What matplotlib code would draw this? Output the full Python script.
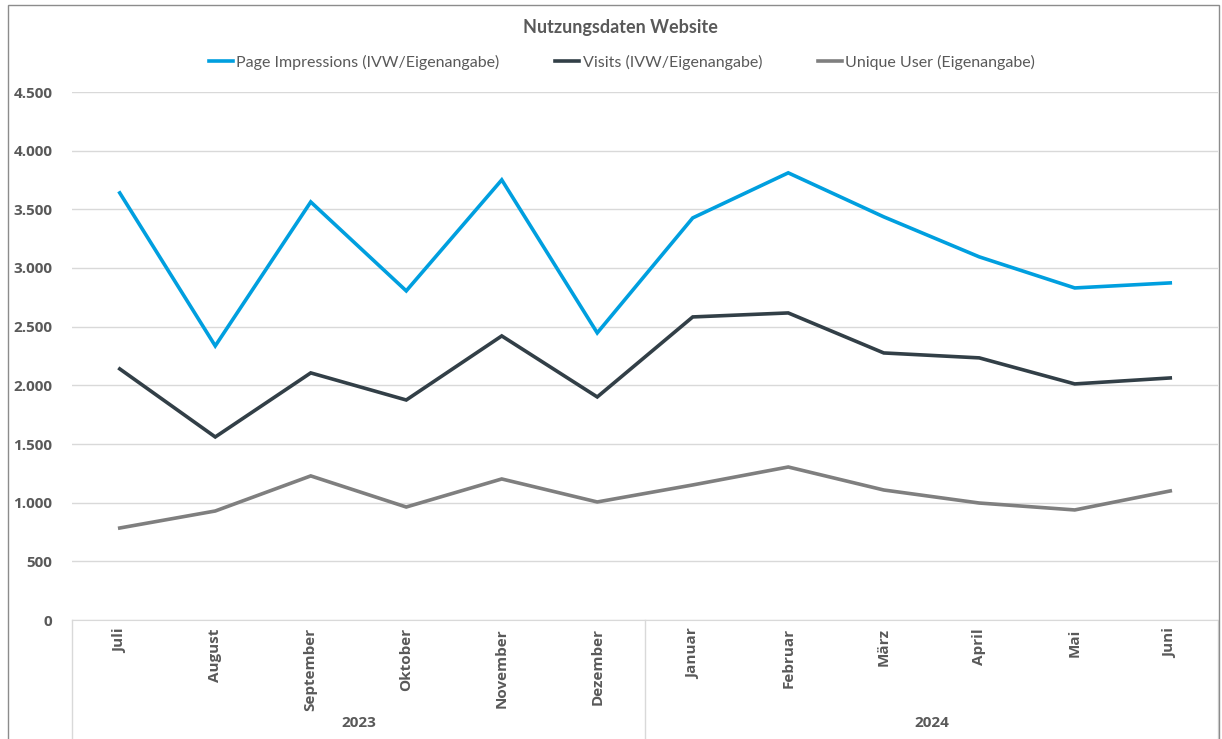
import matplotlib
matplotlib.use("Agg")
import matplotlib.pyplot as plt
from matplotlib.lines import Line2D
from matplotlib.patches import Rectangle
from matplotlib.ticker import FuncFormatter

months = ["Juli", "August", "September", "Oktober", "November", "Dezember",
          "Januar", "Februar", "März", "April", "Mai", "Juni"]
years = ["2023", "2024"]
year_sizes = [6, 6]
page_impressions = [3640, 2336, 3563, 2805, 3751, 2447, 3427, 3811, 3436, 3095, 2830, 2873]
visits = [2140, 1560, 2106, 1875, 2421, 1901, 2583, 2617, 2276, 2234, 2012, 2063]
unique_users = [784, 929, 1228, 963, 1202, 1006, 1151, 1304, 1108, 997, 938, 1100]
series_names = ["Page Impressions (IVW/Eigenangabe)", "Visits (IVW/Eigenangabe)",
                "Unique User (Eigenangabe)"]
colors = ["#009FDF", "#323F47", "#7F7F7F"]

W, H = 1222, 739
fig = plt.figure(figsize=(W / 100, H / 100), dpi=100)
fig.patch.set_facecolor("white")

# outer chart border
fig.add_artist(Rectangle((8 / W, -0.01), (1219 - 8) / W, (H - 5) / H + 0.01,
                         transform=fig.transFigure, fill=False,
                         edgecolor="#8c8c8c", linewidth=1.0))

left, right = 72 / W, 1218 / W
bottom, top = (H - 620) / H, (H - 92) / H
ax = fig.add_axes([left, bottom, right - left, top - bottom])

x = list(range(len(months)))
for vals, name, c in zip([page_impressions, visits, unique_users], series_names, colors):
    ax.plot(x, vals, color=c, linewidth=2.6, label=name, solid_joinstyle="miter")

ax.set_xlim(-0.5, len(months) - 0.5)
ax.set_ylim(0, 4500)
ax.set_yticks(range(0, 4501, 500))
ax.yaxis.set_major_formatter(FuncFormatter(lambda v, p: f"{int(v):,}".replace(",", ".")))
ax.grid(axis="y", color="#d9d9d9", linewidth=1.0)
ax.set_axisbelow(True)
for s in ["top", "right", "left"]:
    ax.spines[s].set_visible(False)
ax.spines["bottom"].set_color("#d9d9d9")
ax.tick_params(axis="y", length=0, pad=14, labelsize=11, labelcolor="#595959")
for lbl in ax.get_yticklabels():
    lbl.set_fontweight("bold")
    lbl.set_fontfamily("Open Sans")

ax.set_xticks(x)
ax.set_xticklabels(months, rotation=90, fontsize=11, fontweight="bold",
                   color="#595959", fontfamily="Open Sans", va="top")
ax.tick_params(axis="x", length=0, pad=6)

# group separators and year labels
trans = ax.get_xaxis_transform()
boundaries = [-0.5]
for n in year_sizes:
    boundaries.append(boundaries[-1] + n)
for b in boundaries:
    ax.add_line(Line2D([b, b], [0, -0.3], transform=trans, color="#d9d9d9",
                       linewidth=1.0, clip_on=False))
yl = -(723 - 620) / (620 - 92)
for i, yr in enumerate(years):
    cx = (boundaries[i] + boundaries[i + 1]) / 2
    ax.text(cx, yl, yr, transform=trans, ha="center", va="center", fontsize=11,
            fontweight="bold", color="#595959", fontfamily="Open Sans")

fig.text(620 / W, (H - 28) / H, "Nutzungsdaten Website", ha="center", va="center",
         fontsize=13, fontweight="bold", color="#595959", fontfamily="Lato")

leg = fig.legend(loc="center", bbox_to_anchor=(622 / W, (H - 62) / H), ncol=3,
                 frameon=False, fontsize=11, handlelength=1.5, handletextpad=0.2,
                 columnspacing=3.5, labelcolor="#595959",
                 prop={"family": "Lato", "size": 11.5})
for t in leg.get_texts():
    t.set_color("#595959")

fig.savefig("out.png", dpi=100)
